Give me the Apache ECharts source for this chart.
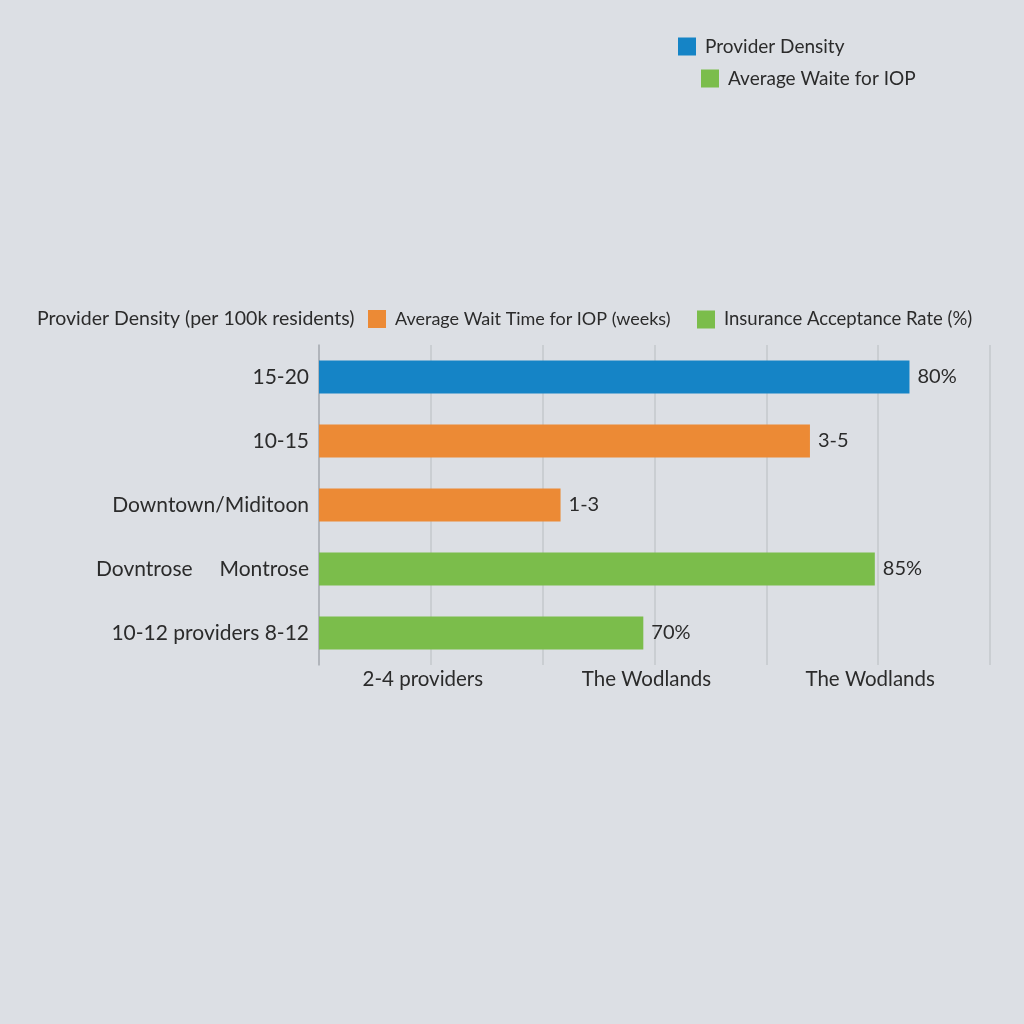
<!DOCTYPE html>
<html>
<head>
<meta charset="utf-8">
<script src="https://cdn.jsdelivr.net/npm/echarts@6/dist/echarts.min.js"></script>
<style>
html,body{margin:0;padding:0;background:#dcdfe4;}
#chart{width:1024px;height:1024px;}
</style>
</head>
<body>
<div id="chart"></div>
<script>
var categories = ['15-20', '10-15', 'Downtown/Miditoon', 'Dovntrose     Montrose', '10-12 providers 8-12'];
var providerDensity = [5.28, '-', '-', '-', '-'];
var waitTime = ['-', 4.39, 2.16, '-', '-'];
var insuranceRate = ['-', '-', '-', 4.97, 2.90];
var valueLabels = ['80%', '3-5', '1-3', '85%', '70%'];
var xTickLabels = {1: '2-4 providers', 3: 'The Wodlands', 5: 'The Wodlands'};

var BLUE = '#1584c6', ORANGE = '#ec8a35', GREEN = '#7bbd4b';
var FONT = 'Lato';
var TXT = '#2b2b2b';

function mkLabel(){
  return {show:true, position:'right', distance:8, fontFamily:FONT, fontSize:20, color:TXT,
    formatter:function(p){return valueLabels[p.dataIndex];}};
}
var legendBase = {orient:'horizontal', icon:'rect', itemWidth:18, itemHeight:18,
  textStyle:{fontFamily:FONT, color:TXT, padding:[0,0,0,4]}};

var chart = echarts.init(document.getElementById('chart'));
chart.setOption({
  backgroundColor:'#dcdfe4',
  animation:false,
  title:{text:'Provider Density (per 100k residents)', left:32, top:304,
    textStyle:{fontFamily:FONT, fontSize:19.5, fontWeight:'normal', color:TXT}},
  legend:[
    Object.assign({}, legendBase, {data:['Provider Density'], left:673, top:32, textStyle:Object.assign({}, legendBase.textStyle, {fontSize:19})}),
    Object.assign({}, legendBase, {data:['Average Waite for IOP'], left:696, top:64, textStyle:Object.assign({}, legendBase.textStyle, {fontSize:19})}),
    Object.assign({}, legendBase, {data:['Average Wait Time for IOP (weeks)'], left:363, top:305, textStyle:Object.assign({}, legendBase.textStyle, {fontSize:18})}),
    Object.assign({}, legendBase, {data:['Insurance Acceptance Rate (%)'], left:692, top:305, textStyle:Object.assign({}, legendBase.textStyle, {fontSize:18.5})})
  ],
  grid:{left:319, right:34, top:345, bottom:359},
  xAxis:{type:'value', min:0, max:6, interval:1,
    axisLine:{show:false}, axisTick:{show:false},
    splitLine:{show:true, lineStyle:{color:'#c5c8cd', width:1.5}},
    axisLabel:{margin:4, fontFamily:FONT, fontSize:20.5, color:TXT, padding:[0,16,0,0],
      formatter:function(v){return xTickLabels[v] || '';}}},
  yAxis:{type:'category', data:categories, inverse:true,
    axisLine:{show:true, lineStyle:{color:'#a9adb3', width:1.5}}, axisTick:{show:false},
    axisLabel:{margin:10, fontFamily:FONT, fontSize:21, color:TXT}},
  series:[
    {name:'Provider Density', type:'bar', data:providerDensity, barWidth:33, barGap:'-100%', itemStyle:{color:BLUE}, label:mkLabel()},
    {name:'Average Wait Time for IOP (weeks)', type:'bar', data:waitTime, barWidth:33, barGap:'-100%', itemStyle:{color:ORANGE}, label:mkLabel()},
    {name:'Insurance Acceptance Rate (%)', type:'bar', data:insuranceRate, barWidth:33, barGap:'-100%', itemStyle:{color:GREEN}, label:mkLabel()},
    {name:'Average Waite for IOP', type:'bar', data:[], barWidth:33, barGap:'-100%', itemStyle:{color:GREEN}}
  ]
});
</script>
</body>
</html>
